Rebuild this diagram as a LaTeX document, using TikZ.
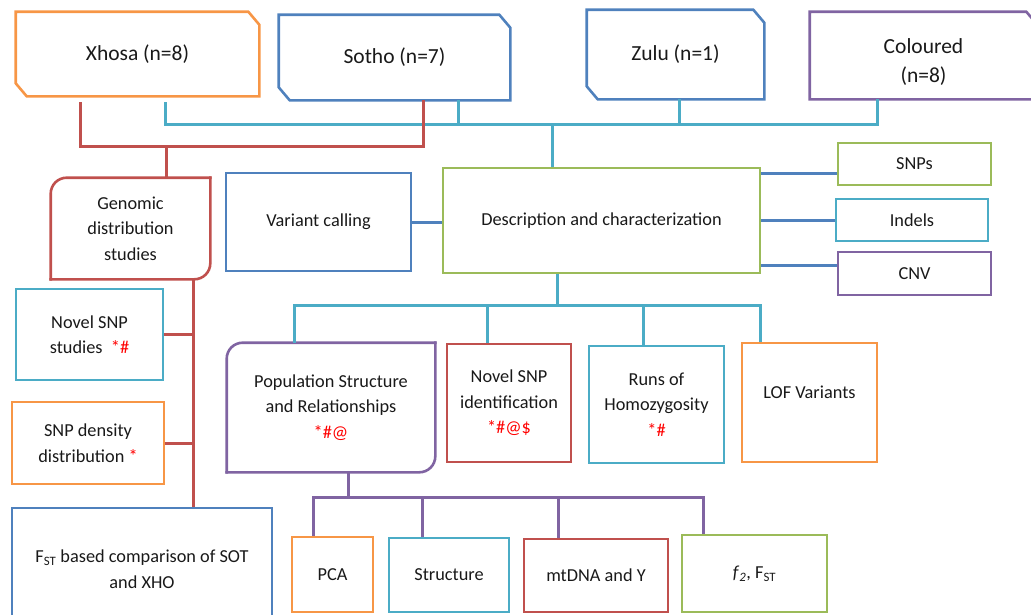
\documentclass[tikz,border=0pt]{standalone}
\usepackage{fontspec}
\setmainfont{Carlito}
\definecolor{cblue}{HTML}{4F81BD}
\definecolor{cred}{HTML}{C0504D}
\definecolor{cgreen}{HTML}{9BBB59}
\definecolor{cpurple}{HTML}{8064A2}
\definecolor{ccyan}{HTML}{4BACC6}
\definecolor{corange}{HTML}{F79646}
\definecolor{starred}{HTML}{FF0000}
\newcommand\refs[1]{\textcolor{starred}{#1}}
\newcommand\chambox[2]{\draw[#1,outline] (#2.north west) -- ([xshift=-11pt]#2.north east)
  -- ([yshift=-13pt]#2.north east) -- (#2.south east) -- ([xshift=11pt]#2.south west)
  -- ([yshift=13pt]#2.south west) -- cycle;}
\tikzset{
  box/.style={rectangle,draw,line width=2.6pt,inner sep=0pt,align=center,
    font=\fontsize{18.3}{25.5}\selectfont,text=black!90},
  group/.style={box,draw=none,font=\fontsize{21.5}{29}\selectfont},
  outline/.style={line width=2.6pt},
  roundpart/.style={line width=2.6pt,rounded corners=16pt,line cap=rect},
  link/.style={line width=3pt}
}
\begin{document}
\begin{tikzpicture}[x=1pt,y=-1pt]
  \useasboundingbox (0,0) rectangle (1031,614);
  \clip (0,0) rectangle (1031,614);
  \node[group,minimum width=241pt,minimum height=82pt] (xho) at (137.5,54) {Xhosa (n=8)};
  \node[group,minimum width=229pt,minimum height=83pt] (sot) at (394.5,57.5) {Sotho (n=7)};
  \node[group,minimum width=175pt,minimum height=87pt] (zul) at (675.5,54.5) {Zulu (n=1)};
  \node[group,minimum width=225pt,minimum height=85pt,text height=57pt] (col) at (923.5,55.5) {Coloured\\(n=8)};
  \node[box,draw=none,minimum width=157pt,minimum height=99pt] (gen) at (130.5,228.5) {Genomic\\distribution\\studies};
  \node[box,draw=cblue,minimum width=185pt,minimum height=98pt] (var) at (318.5,222) {Variant calling};
  \node[box,draw=cgreen,minimum width=317pt,minimum height=105pt] (des) at (601.5,220.5) {Description and characterization};
  \node[box,draw=cgreen,minimum width=153pt,minimum height=42pt] (snp) at (914.5,164) {SNPs};
  \node[box,draw=ccyan,minimum width=152pt,minimum height=42pt] (ind) at (912,220) {Indels};
  \node[box,draw=cpurple,minimum width=153pt,minimum height=43pt] (cnv) at (914.5,273.5) {CNV};
  \node[box,draw=ccyan,minimum width=147pt,minimum height=91pt] (nss) at (89.5,334.5) {Novel SNP\\studies\ \ \refs{*\#}};
  \node[box,draw=corange,minimum width=152pt,minimum height=82pt] (snd) at (88,443) {SNP density\\distribution \refs{*}};
  \node[box,draw=cblue,minimum width=260pt,minimum height=122pt] (fst) at (142,569) {F\textsubscript{ST} based comparison of SOT\\and XHO};
  \node[box,draw=none,minimum width=206pt,minimum height=127pt] (pop) at (331,407.5) {Population Structure\\and Relationships\\\refs{*\#@}};
  \node[box,draw=cred,minimum width=124pt,minimum height=118pt] (nsi) at (509,403) {Novel SNP\\identification\\\refs{*\#@\$}};
  \node[box,draw=ccyan,minimum width=135pt,minimum height=117pt] (roh) at (656.5,404.5) {Runs of\\Homozygosity\\\refs{*\#}};
  \node[box,draw=corange,minimum width=135pt,minimum height=119pt,text depth=21pt] (lof) at (809.5,402.5) {LOF Variants};
  \node[box,draw=corange,minimum width=81pt,minimum height=75pt] (pca) at (332.5,574.5) {PCA};
  \node[box,draw=ccyan,minimum width=120pt,minimum height=74pt] (str) at (449,575) {Structure};
  \node[box,draw=cred,minimum width=144pt,minimum height=73pt] (mty) at (596,575.5) {mtDNA and Y};
  \node[box,draw=cgreen,minimum width=145pt,minimum height=77pt] (fts) at (754.5,573.5) {\textit{f}\textsubscript{\textit{2}}, F\textsubscript{ST}};
  \chambox{corange}{xho}
  \chambox{cblue}{sot}
  \chambox{cblue}{zul}
  \draw[cpurple,outline] (col.north west) -- ([xshift=-11pt]col.north east) -- ([yshift=-13pt]col.north east)
    -- (col.south east) -- (col.south west) -- cycle;
  \draw[cred,roundpart] (gen.north east) -- (gen.south east) -- (gen.south west);
  \draw[cred,roundpart] (gen.south west) -- (gen.north west) -- (gen.north east);
  \draw[cpurple,roundpart] (pop.north east) -- (pop.south east) -- (pop.south west);
  \draw[cpurple,roundpart] (pop.south west) -- (pop.north west) -- (pop.north east);
  \coordinate (topbar) at (552,124);
  \coordinate (redbar) at (166,146);
  \coordinate (midbar) at (557,305);
  \coordinate (purbar) at (348,497);
  \draw[ccyan,link] ([xshift=-46.5pt]col.south) |- (topbar) -| ([xshift=27.5pt,yshift=-6pt]xho.south);
  \draw[ccyan,link] ([xshift=63.5pt]sot.south) coordinate (s1) -- (s1 |- topbar);
  \draw[ccyan,link] ([xshift=3.5pt]zul.south) coordinate (z1) -- (z1 |- topbar);
  \draw[ccyan,link] (topbar) -- (des.north -| topbar);
  \draw[cred,link] ([xshift=-57.5pt,yshift=-6pt]xho.south) |- (redbar) -| ([xshift=28.5pt]sot.south);
  \draw[cred,link] (redbar) -- (gen.north -| redbar);
  \draw[cred,link] ([xshift=62.5pt]gen.south) coordinate (gs) -- (fst.north -| gs);
  \draw[cred,link] (nss.east) -- (nss.east -| gs);
  \draw[cred,link] (snd.east) -- (snd.east -| gs);
  \draw[cblue,link] (var.east) -- (var.east -| des.west);
  \draw[cblue,link] ([yshift=-9pt]snp.west) coordinate (e1) -- (e1 -| des.east);
  \draw[cblue,link] (ind.west) -- (ind.west -| des.east);
  \draw[cblue,link] ([yshift=8.5pt]cnv.west) coordinate (e3) -- (e3 -| des.east);
  \draw[ccyan,link] (des.south -| midbar) -- (midbar);
  \draw[ccyan,link] ([xshift=-37pt]pop.north) |- (midbar) -| ([xshift=-49.5pt]lof.north);
  \draw[ccyan,link] ([xshift=-22pt]nsi.north) coordinate (n1) -- (n1 |- midbar);
  \draw[ccyan,link] ([xshift=-13.5pt]roh.north) coordinate (r1) -- (r1 |- midbar);
  \draw[cpurple,link] (pop.south -| purbar) -- (purbar);
  \draw[cpurple,link] ([xshift=-19.5pt]pca.north) |- (purbar) -| ([xshift=-51.5pt]fts.north);
  \draw[cpurple,link] ([xshift=-27pt]str.north) coordinate (p1) -- (p1 |- purbar);
  \draw[cpurple,link] ([xshift=-38pt]mty.north) coordinate (p2) -- (p2 |- purbar);
\end{tikzpicture}
\end{document}
